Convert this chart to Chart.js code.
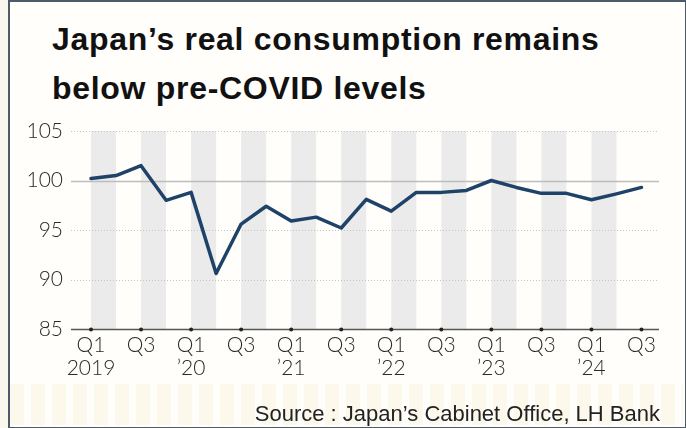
<!DOCTYPE html>
<html lang="en">
<head>
  <meta charset="UTF-8" />
  <title>Japan real consumption</title>
  <script src="https://cdn.jsdelivr.net/npm/chart.js"></script>
  <style>
    html, body { margin: 0; padding: 0; }
    body { width: 686px; height: 428px; background: #faf7ee; overflow: hidden; position: relative; }
    .frame { position: absolute; left: 8px; top: 0; width: 675px; height: 425px; border: 2px solid #4b5b69; background: #fffefb; }
    .strip { position: absolute; left: 10px; top: 384px; width: 673px; height: 41px;
      background: repeating-linear-gradient(90deg, #fcf8ec 0 14px, #fffefa 14px 21px); }
    .title { position: absolute; left: 52px; top: 15px; font-family: "Liberation Sans", Arial, sans-serif;
      font-weight: bold; font-size: 32px; line-height: 49px; letter-spacing: 0.7px; color: #111; }
    .source { position: absolute; right: 26px; top: 401px; font-family: "Liberation Sans", Arial, sans-serif;
      font-size: 22px; color: #222; }
    .wrap { position: absolute; left: 0; top: 0; width: 686px; height: 428px; }
  </style>
</head>
<body>
  <div class="frame"></div>
  <div class="strip"></div>
  <div class="title">Japan’s real consumption remains<br>below pre-COVID levels</div>
  <div class="wrap"><canvas id="chart"></canvas></div>
  <div class="source">Source : Japan’s Cabinet Office, LH Bank</div>

  <script>
    const quarterLabels = ["Q1","Q2","Q3","Q4","Q1","Q2","Q3","Q4","Q1","Q2","Q3","Q4",
                           "Q1","Q2","Q3","Q4","Q1","Q2","Q3","Q4","Q1","Q2","Q3"];
    const yearLabels = ["2019","","","","’20","","","","’21","","","",
                        "’22","","","","’23","","","","’24","",""];
    const consumption = [100.2, 100.5, 101.5, 98.0, 98.8, 90.6, 95.6, 97.4, 95.9, 96.3, 95.2, 98.1,
                         96.9, 98.8, 98.8, 99.0, 100.0, 99.3, 98.7, 98.7, 98.05, 98.65, 99.3];
    const yTicks = [85, 90, 95, 100, 105];

    // grey bands on Q1-Q2 and Q3-Q4, grid lines, axis line and tick dots
    const decor = {
      id: "decor",
      beforeDatasetsDraw(chart) {
        const { ctx, chartArea, scales: { x, y } } = chart;
        ctx.save();
        ctx.fillStyle = "#ebebeb";
        for (let i = 0; i + 1 < quarterLabels.length; i += 2) {
          const x1 = x.getPixelForValue(i), x2 = x.getPixelForValue(i + 1);
          ctx.fillRect(x1, chartArea.top, x2 - x1, chartArea.bottom - chartArea.top);
        }
        yTicks.forEach(v => {
          const py = Math.round(y.getPixelForValue(v)) + 0.5;
          ctx.beginPath();
          if (v === 85) { ctx.setLineDash([]); ctx.strokeStyle = "#555"; ctx.lineWidth = 1.3; }
          else if (v === 100) { ctx.setLineDash([]); ctx.strokeStyle = "#bdbdbd"; ctx.lineWidth = 1.3; }
          else { ctx.setLineDash([1, 2]); ctx.strokeStyle = "#c4c4c4"; ctx.lineWidth = 1; }
          ctx.moveTo(chartArea.left, py);
          ctx.lineTo(chartArea.right, py);
          ctx.stroke();
        });
        ctx.restore();
      },
      afterDatasetsDraw(chart) {
        const { ctx, scales: { x, y } } = chart;
        ctx.save();
        ctx.fillStyle = "#222";
        for (let i = 0; i < quarterLabels.length; i += 2) {
          ctx.beginPath();
          ctx.arc(x.getPixelForValue(i), Math.round(y.getPixelForValue(85)) + 0.5, 2, 0, Math.PI * 2);
          ctx.fill();
        }
        ctx.restore();
      }
    };

    const tickFont = { family: "Lato, 'Open Sans', sans-serif", size: 21, weight: "300", lineHeight: 1.1 };

    new Chart(document.getElementById("chart"), {
      type: "line",
      data: {
        datasets: [{
          data: consumption.map((v, i) => ({ x: i, y: v })),
          borderColor: "#1f4268",
          borderWidth: 3.5,
          pointRadius: 0,
          tension: 0,
          borderJoinStyle: "round",
          borderCapStyle: "round"
        }]
      },
      options: {
        responsive: true,
        maintainAspectRatio: false,
        animation: false,
        layout: { padding: { top: 131, right: 27, bottom: 0, left: 0 } },
        plugins: { legend: { display: false }, tooltip: { enabled: false } },
        scales: {
          x: {
            type: "linear",
            min: -0.8,
            max: 22.7,
            afterFit: s => { s.height = 99; },
            afterBuildTicks: s => {
              s.ticks = quarterLabels.map((q, i) => ({ value: i })).filter(t => t.value % 2 === 0);
            },
            grid: { display: false, drawTicks: false },
            border: { display: false },
            ticks: {
              autoSkip: false,
              maxRotation: 0,
              padding: 5,
              color: "#2a2a2a",
              font: tickFont,
              callback: v => [quarterLabels[v], yearLabels[v]]
            }
          },
          y: {
            min: 85,
            max: 105,
            afterFit: s => { s.width = 71; },
            afterBuildTicks: s => { s.ticks = yTicks.map(v => ({ value: v })); },
            grid: { display: false, drawTicks: false },
            border: { display: false },
            ticks: { padding: 8, color: "#2a2a2a", font: tickFont }
          }
        }
      },
      plugins: [decor]
    });
  </script>
</body>
</html>
